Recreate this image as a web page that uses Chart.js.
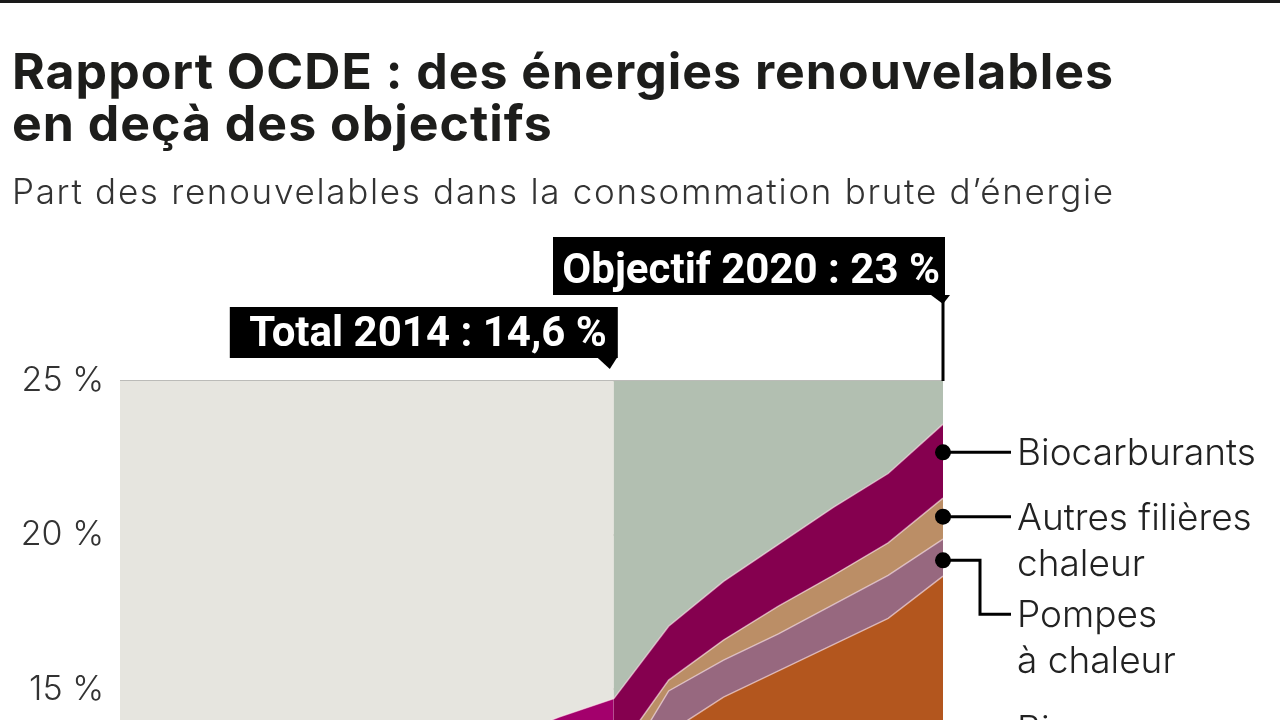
<!DOCTYPE html>
<html>
<head>
  <meta charset="utf-8">
  <title>Rapport OCDE : des énergies renouvelables en deçà des objectifs</title>
  <script src="https://cdn.jsdelivr.net/npm/chart.js"></script>
  <style>
    body { margin: 0; width: 1280px; height: 720px; overflow: hidden; background: #fff; position: relative; font-family: Inter, sans-serif; }
    #chart { position: absolute; left: 0; top: 0; }
    #rule { position: absolute; left: 0; top: 0; width: 1280px; height: 3px; background: #1a1a1a; }
    h1 { position: absolute; left: 12px; top: 45px; margin: 0; font-size: 50px; line-height: 52px; font-weight: 700; color: #1d1d1b; letter-spacing: 1px; }
    #sub { position: absolute; left: 12px; top: 171px; margin: 0; font-size: 35px; line-height: 40px; font-weight: 300; color: #333; letter-spacing: 1.7px; }
  </style>
</head>
<body>
  <canvas id="chart" width="1280" height="880"></canvas>
  <div id="rule"></div>
  <h1>Rapport OCDE : des énergies renouvelables<br>en deçà des objectifs</h1>
  <p id="sub">Part des renouvelables dans la consommation brute d’énergie</p>
  <script>
    // parts en % de la consommation brute, 2005-2014 réalisé, 2015-2020 trajectoire
    const years = ['2005', '2006', '2007', '2008', '2009', '2010', '2011', '2012', '2013', '2014',
                   '2015', '2016', '2017', '2018', '2019', '2020'];
    const biomasse      = [8.5, 8.1, 8.15, 8.5, 9.2, 9.45, 7.95, 10.0, 10.6, 11.0, 13.6, 14.75, 15.6, 16.45, 17.3, 18.67];
    const pompes        = [0.3, 0.4, 0.5, 0.6, 0.7, 0.8, 0.8, 0.9, 0.9, 1.0, 1.35, 1.2, 1.2, 1.3, 1.4, 1.2];
    const autresChaleur = [0.4, 0.4, 0.45, 0.5, 0.5, 0.55, 0.55, 0.6, 0.7, 0.8, 0.35, 0.65, 0.9, 0.95, 1.05, 1.33];
    const biocarburants = [0.4, 0.7, 1.1, 1.7, 1.9, 1.9, 1.8, 1.9, 1.9, 1.9, 1.75, 1.9, 2.0, 2.2, 2.25, 2.4];

    const lastReal = '2014';
    const target = '2020';
    const tagReal = 'Total 2014 : 14,6 %';
    const tagTarget = 'Objectif 2020 : 23 %';

    // labels on the right, one per dataset (top to bottom); at = where the dot sits in the band
    const sideLabels = [
      { ds: 3, lines: ['Biocarburants'], at: 0.38 },
      { ds: 2, lines: ['Autres filières', 'chaleur'], at: 0.45 },
      { ds: 1, lines: ['Pompes', 'à chaleur'], at: 0.57, drop: 54 },
      { ds: 0, lines: ['Biomasse'], fixedY: 729 }
    ];

    function tag(ctx, text, x0, x1, y0, y1, padR, tipX, tipY) {
      ctx.fillStyle = '#000';
      ctx.fillRect(x0, y0, x1 - x0, y1 - y0);
      ctx.beginPath();
      ctx.moveTo(tipX - 12, y1);
      ctx.lineTo(tipX + 7, y1);
      ctx.lineTo(tipX, tipY);
      ctx.closePath();
      ctx.fill();
      ctx.fillStyle = '#fff';
      ctx.font = '700 42px Roboto';
      ctx.textAlign = 'right';
      ctx.textBaseline = 'alphabetic';
      ctx.fillText(text, x1 - padR, y1 - 12);
    }

    const decor = {
      id: 'decor',
      beforeDatasetsDraw(chart) {
        const { ctx, chartArea: a, scales: { x } } = chart;
        const xr = x.getPixelForValue(years.indexOf(lastReal));
        ctx.save();
        ctx.fillStyle = '#e6e5df';
        ctx.fillRect(a.left, a.top, xr - a.left, a.bottom - a.top);
        ctx.fillStyle = '#b2bfb1';
        ctx.fillRect(xr, a.top, a.right - xr, a.bottom - a.top);
        ctx.restore();
      },
      afterDraw(chart) {
        const { ctx, chartArea: a, scales: { x } } = chart;
        const xr = x.getPixelForValue(years.indexOf(lastReal));
        const xt = x.getPixelForValue(years.indexOf(target));
        ctx.save();
        // tags
        tag(ctx, tagReal, xr - 384, xr + 4, 307, 358, 11, xr - 4, 369);
        tag(ctx, tagTarget, xt - 390, xt + 2, 237, 295, 5, xt, 304);
        ctx.fillStyle = '#000';
        ctx.fillRect(xt - 1.5, 295, 3, a.top - 295);

        // dots, leader lines and labels
        const last = years.length - 1;
        ctx.font = '300 37px Inter';
        ctx.textAlign = 'left';
        ctx.textBaseline = 'alphabetic';
        ctx.lineWidth = 3;
        ctx.strokeStyle = '#000';
        sideLabels.forEach(l => {
          let y;
          if (l.fixedY) {
            y = l.fixedY;
          } else {
            const top = chart.getDatasetMeta(l.ds).data[last].y;
            const bottom = chart.getDatasetMeta(l.ds - 1).data[last].y;
            y = top + (bottom - top) * l.at;
          }
          ctx.beginPath();
          ctx.moveTo(xt, y);
          let ty = y;
          if (l.drop) {
            ctx.lineTo(xt + 37, y);
            ty = y + l.drop;
            ctx.lineTo(xt + 37, ty);
          }
          ctx.lineTo(xt + 68, ty);
          ctx.stroke();
          ctx.fillStyle = '#000';
          ctx.beginPath();
          ctx.arc(xt, y, 8, 0, Math.PI * 2);
          ctx.fill();
          ctx.fillStyle = '#222';
          l.lines.forEach((t, i) => ctx.fillText(t, xt + 74, ty + 13 + i * 46));
        });
        ctx.restore();
      }
    };

    new Chart(document.getElementById('chart'), {
      type: 'line',
      data: {
        labels: years,
        datasets: [
          { label: 'Biomasse', data: biomasse, backgroundColor: '#b3561e', fill: 'origin' },
          { label: 'Pompes à chaleur', data: pompes, backgroundColor: '#97687f', fill: '-1' },
          { label: 'Autres filières chaleur', data: autresChaleur, backgroundColor: '#bb8e66', fill: '-1' },
          { label: 'Biocarburants', data: biocarburants, backgroundColor: '#85004f', fill: '-1',
            segment: { backgroundColor: c => c.p1DataIndex <= years.indexOf(lastReal) ? '#a3006c' : undefined } }
        ]
      },
      options: {
        responsive: false,
        animation: false,
        devicePixelRatio: 1,
        layout: { padding: { top: 381, right: 337, bottom: 36, left: 0 } },
        elements: {
          point: { radius: 0 },
          line: { borderWidth: 1.5, borderColor: 'rgba(255,228,236,0.6)', tension: 0 }
        },
        plugins: { legend: { display: false }, tooltip: { enabled: false } },
        scales: {
          x: { display: false },
          y: {
            stacked: true, min: 10, max: 25, z: 1,
            afterFit: s => { s.width = 120; },
            grid: { color: 'rgba(50,50,40,0.33)', lineWidth: 2, drawTicks: false },
            border: { display: false },
            ticks: {
              stepSize: 5, padding: 16, color: '#333',
              font: { family: 'Inter', size: 34, weight: '300' },
              callback: v => v + ' %'
            }
          }
        }
      },
      plugins: [decor]
    });
  </script>
</body>
</html>
